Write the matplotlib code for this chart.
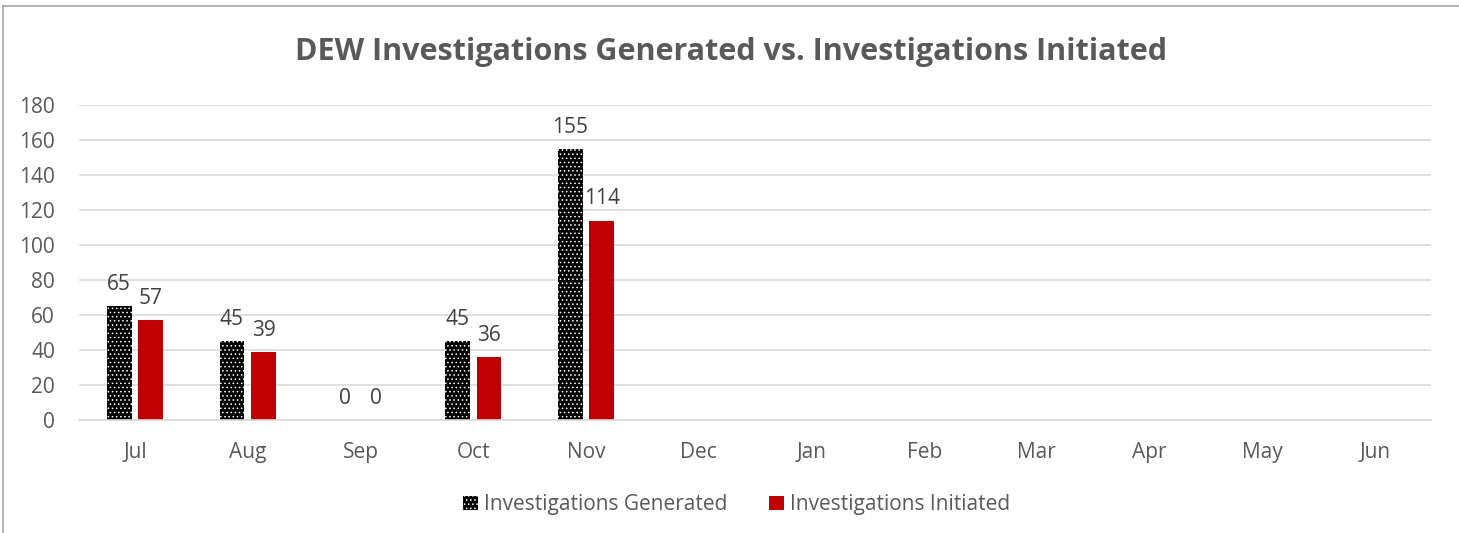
import numpy as np
import matplotlib.pyplot as plt
from matplotlib.lines import Line2D

months = ['Jul', 'Aug', 'Sep', 'Oct', 'Nov', 'Dec', 'Jan', 'Feb', 'Mar', 'Apr', 'May', 'Jun']
generated = [65, 45, 0, 45, 155, np.nan, np.nan, np.nan, np.nan, np.nan, np.nan, np.nan]
initiated = [57, 39, 0, 36, 114, np.nan, np.nan, np.nan, np.nan, np.nan, np.nan, np.nan]

plt.rcParams['font.family'] = ['Open Sans', 'DejaVu Sans']
plt.rcParams['hatch.linewidth'] = 0.6

grey_text = '#595959'
fig = plt.figure(figsize=(14.59, 5.33), dpi=100)
ax = fig.add_axes([0.0539, 0.212, 0.9272, 0.591])

x = np.arange(len(months))
w = 0.22
b1 = ax.bar(x - 0.14, generated, w, facecolor='black', edgecolor='white', linewidth=0,
            hatch='....', label='Investigations Generated')
b2 = ax.bar(x + 0.14, initiated, w, color='#c00000', label='Investigations Initiated')

for bars, vals in [(b1, generated), (b2, initiated)]:
    for rect, v in zip(bars, vals):
        if np.isnan(v):
            continue
        ax.annotate(f'{v:.0f}', (rect.get_x() + rect.get_width() / 2, v),
                    xytext=(0, 8), textcoords='offset points', ha='center', va='bottom',
                    fontsize=15, color='#404040')

ax.set_xlim(-0.5, len(months) - 0.5)
ax.set_ylim(0, 180)
ax.set_yticks(range(0, 181, 20))
ax.set_xticks(x)
ax.set_xticklabels(months)
ax.tick_params(axis='both', length=0, labelsize=15, labelcolor=grey_text)
ax.tick_params(axis='y', pad=17)
ax.tick_params(axis='x', pad=16)
ax.yaxis.grid(True, color='#d9d9d9', linewidth=1.2)
ax.set_axisbelow(True)
for s in ['top', 'right', 'left']:
    ax.spines[s].set_visible(False)
ax.spines['bottom'].set_color('#d9d9d9')
ax.spines['bottom'].set_linewidth(1.2)

fig.text(0.501, 0.903, 'DEW Investigations Generated vs. Investigations Initiated',
         ha='center', va='center', fontsize=22, fontweight='bold', color=grey_text)

leg = fig.legend(handles=[b1, b2], loc='center', bbox_to_anchor=(0.505, 0.053), ncol=2,
                 frameon=False, fontsize=15, handlelength=0.7, handleheight=0.7,
                 handletextpad=0.3, columnspacing=2.0)
for t in leg.get_texts():
    t.set_color(grey_text)

# chart border (left and top edges visible)
fig.add_artist(Line2D([3 / 1459, 3 / 1459], [0, 1 - 6 / 533], transform=fig.transFigure,
                      color='#a6a6a6', linewidth=1.2))
fig.add_artist(Line2D([3 / 1459, 1], [1 - 6 / 533, 1 - 6 / 533], transform=fig.transFigure,
                      color='#a6a6a6', linewidth=1.2))

fig.savefig('out.png', dpi=100)
